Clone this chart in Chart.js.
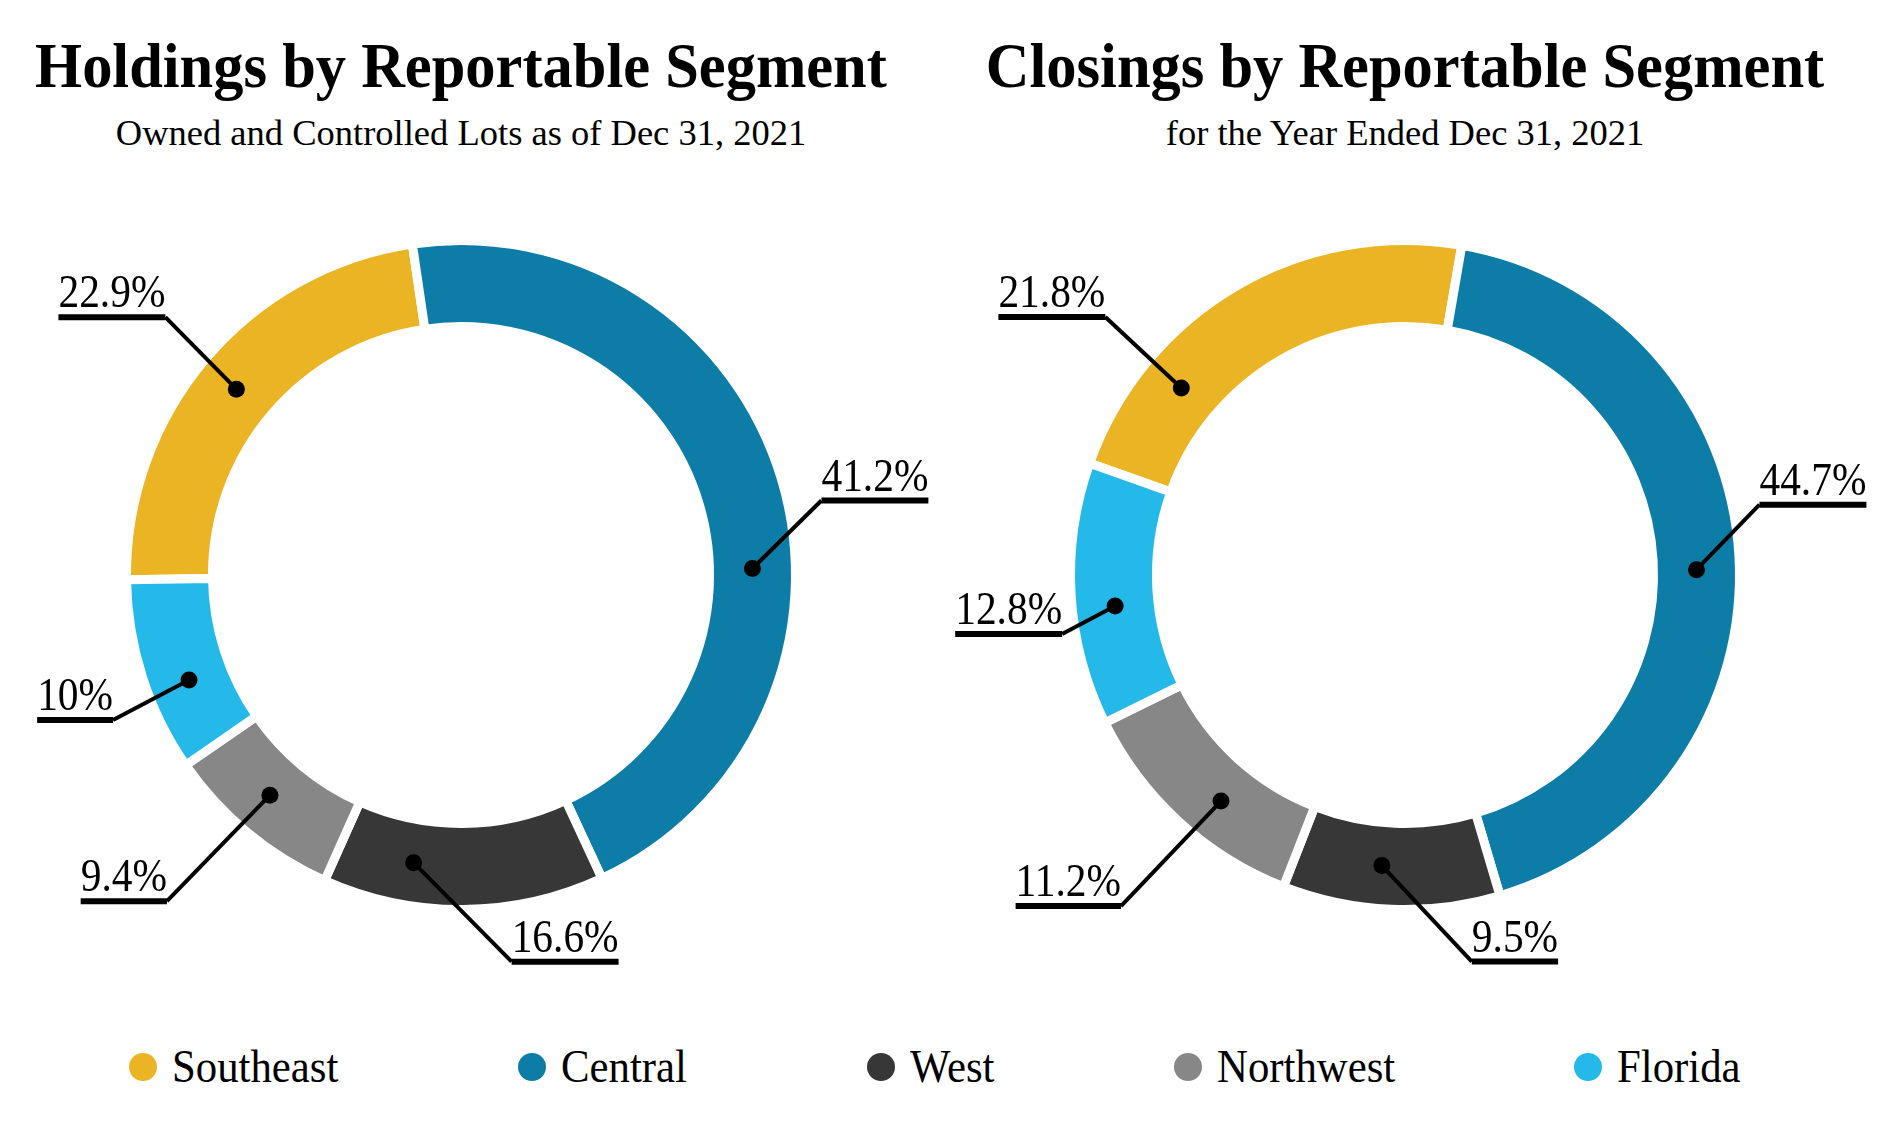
<!DOCTYPE html>
<html>
<head>
<meta charset="utf-8">
<title>Holdings and Closings by Reportable Segment</title>
<script src="https://cdn.jsdelivr.net/npm/chart.js@4.4.1/dist/chart.umd.min.js"></script>
<style>
  body {
    margin: 0;
    width: 1890px;
    height: 1145px;
    background: #fff;
    position: relative;
    overflow: hidden;
    font-family: 'Liberation Serif', 'Times New Roman', serif;
    color: #000;
  }
  canvas { position: absolute; top: 0; }
  .titulo, .subtitulo {
    position: absolute;
    width: 1000px;
    text-align: center;
    line-height: 1;
    white-space: nowrap;
  }
  .titulo { font-size: 63px; font-weight: bold; top: 35px; transform: scaleX(0.96); }
  .subtitulo { font-size: 36.5px; top: 115px; }
  #leyenda {
    position: absolute;
    left: 129px;
    width: 1612px;
    top: 1043px;
    display: flex;
    justify-content: space-between;
    align-items: center;
    font-size: 47px;
    line-height: 1;
  }
  .item { display: flex; align-items: center; }
  .item span.txt { display: inline-block; transform: scaleX(0.91); transform-origin: left center; }
  .punto { width: 28px; height: 28px; border-radius: 50%; margin-right: 15px; }
</style>
</head>
<body>

<div class="titulo" style="left:-39px">Holdings by Reportable Segment</div>
<div class="subtitulo" style="left:-39px">Owned and Controlled Lots as of Dec 31, 2021</div>
<div class="titulo" style="left:905px">Closings by Reportable Segment</div>
<div class="subtitulo" style="left:905px">for the Year Ended Dec 31, 2021</div>

<canvas id="holdings" width="945" height="1000" style="left:0"></canvas>
<canvas id="closings" width="945" height="1000" style="left:945px"></canvas>

<div id="leyenda"></div>

<script>
const segments = ['Southeast', 'Central', 'West', 'Northwest', 'Florida'];
const segmentColors = ['#EAB424', '#0D7DA8', '#373737', '#878787', '#25B9EA'];

// share of the ring each segment takes in the source picture (percent)
const holdingsShare = [22.9, 45.4, 13.6, 8.7, 9.4];
const holdingsLabels = ['22.9%', '41.2%', '16.6%', '9.4%', '10%'];

const closingsShare = [22.3, 42.7, 10.5, 11.8, 12.7];
const closingsLabels = ['21.8%', '44.7%', '9.5%', '11.2%', '12.8%'];

// callout dot with leader line and underlined label
const calloutPlugin = {
  id: 'callouts',
  afterDatasetsDraw(chart, args, opts) {
    const ctx = chart.ctx;
    const arcs = chart.getDatasetMeta(0).data;
    arcs.forEach((arc, i) => {
      const p = arc.getProps(['x', 'y', 'startAngle', 'endAngle', 'innerRadius', 'outerRadius'], true);
      const ang = p.startAngle + (p.endAngle - p.startAngle) * opts.dotAt[i];
      const r = (p.innerRadius + p.outerRadius) / 2;
      const dx = p.x + Math.cos(ang) * r;
      const dy = p.y + Math.sin(ang) * r;
      const ex = dx + opts.elbow[i][0];
      const ey = dy + opts.elbow[i][1];
      const texto = opts.labels[i];

      ctx.save();
      ctx.font = '46px "Liberation Serif", "Times New Roman", serif';
      const w = ctx.measureText(texto).width * opts.squeeze;
      const haciaIzq = opts.elbow[i][0] < 0;
      const x0 = haciaIzq ? ex - w : ex;
      const x1 = haciaIzq ? ex : ex + w;

      ctx.strokeStyle = '#000';
      ctx.fillStyle = '#000';
      ctx.lineCap = 'butt';

      ctx.lineWidth = 4;
      ctx.beginPath();
      ctx.moveTo(dx, dy);
      ctx.lineTo(ex, ey);
      ctx.stroke();

      ctx.lineWidth = 6;
      ctx.beginPath();
      ctx.moveTo(x0, ey);
      ctx.lineTo(x1, ey);
      ctx.stroke();

      ctx.beginPath();
      ctx.arc(dx, dy, 8.5, 0, Math.PI * 2);
      ctx.fill();

      ctx.translate(x0, ey - 10);
      ctx.scale(opts.squeeze, 1);
      ctx.textBaseline = 'alphabetic';
      ctx.fillText(texto, 0, 0);
      ctx.restore();
    });
  }
};

function crearDona(id, share, labels, rotation, padRight, callouts) {
  const config = {
    type: 'doughnut',
    data: {
      labels: segments,
      datasets: [{
        data: share,
        backgroundColor: segmentColors,
        borderColor: '#fff',
        borderWidth: 9,
        hoverOffset: 0
      }]
    },
    options: {
      responsive: false,
      animation: false,
      rotation: rotation,
      radius: 334.5,
      cutout: '74.3%',
      layout: { padding: { left: 0, right: padRight, top: 150, bottom: 0 } },
      plugins: {
        legend: { display: false },
        tooltip: { enabled: false },
        callouts: Object.assign({ labels: labels, squeeze: 0.9 }, callouts)
      }
    },
    plugins: [calloutPlugin]
  };
  return new Chart(document.getElementById(id).getContext('2d'), config);
}

crearDona('holdings', holdingsShare, holdingsLabels, 269.2, 23, {
  dotAt: [0.49, 0.594, 0.70, 0.54, 0.40],
  elbow: [[-71, -72], [69, -68], [98, 99], [-103, 106], [-76, 40]]
});

crearDona('closings', closingsShare, closingsLabels, 289.5, 25, {
  dotAt: [0.254, 0.515, 0.557, 0.42, 0.44],
  elbow: [[-76, -71], [63, -65], [90, 96], [-100, 105], [-53, 28]]
});

const leyenda = document.getElementById('leyenda');
segments.forEach((nombre, i) => {
  const item = document.createElement('div');
  item.classList.add('item');
  const punto = document.createElement('span');
  punto.classList.add('punto');
  punto.style.background = segmentColors[i];
  const texto = document.createElement('span');
  texto.classList.add('txt');
  texto.textContent = nombre;
  item.appendChild(punto);
  item.appendChild(texto);
  leyenda.appendChild(item);
  // the scaled text keeps its full layout width, so pull the next item back
  texto.style.marginRight = -(texto.offsetWidth * 0.09) + 'px';
});
</script>
</body>
</html>
